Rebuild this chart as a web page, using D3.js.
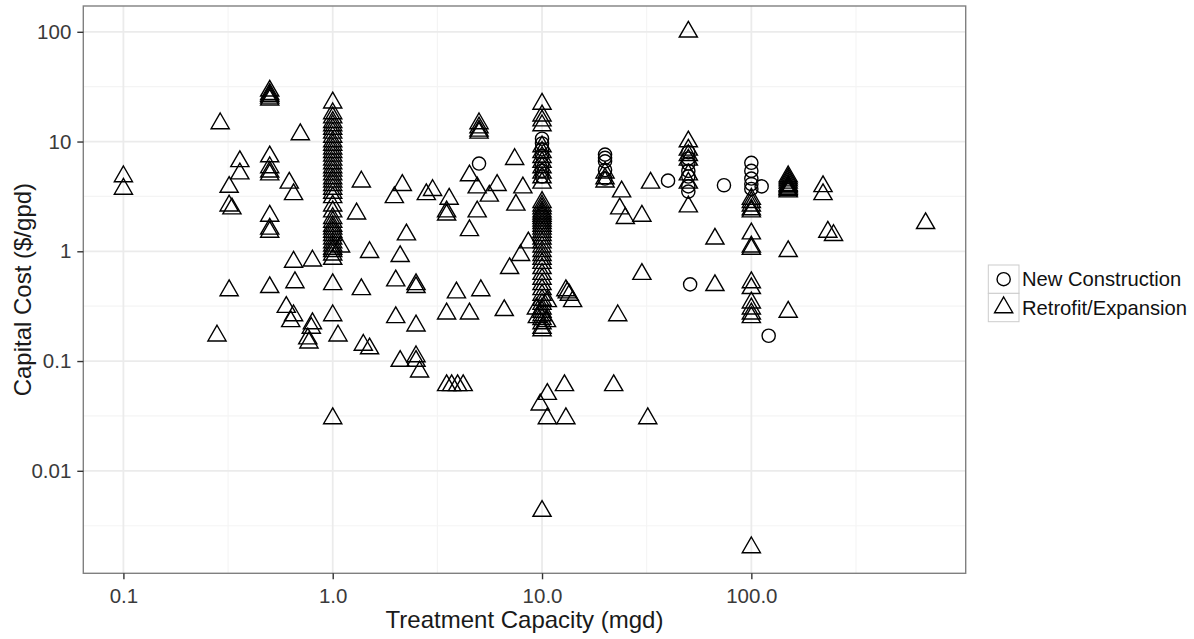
<!DOCTYPE html>
<html>
<head>
<meta charset="utf-8">
<script src="https://cdn.jsdelivr.net/npm/d3@7"></script>
<style>
  html, body { margin: 0; padding: 0; background: #fff; }
  svg { display: block; }
  text { font-family: "Liberation Sans", Arial, sans-serif; }
</style>
</head>
<body>
<svg id="chart" width="1194" height="639"></svg>
<script>
// ---------------- data ----------------
const seriesNames = ["New Construction", "Retrofit/Expansion"];

// New Construction: [capacity (mgd), capital cost ($/gpd)]
const newConstruction = [
  [5, 6.3],
  [10, 10.6], [10, 9.6], [10, 8.5], [10, 7.4], [10, 6.2], [10, 5.4], [10, 4.8],
  [20, 7.6], [20, 7.1], [20, 6.6], [20, 5.5], [20, 4.6],
  [40, 4.4],
  [50, 8.0], [50, 7.0], [50, 6.3], [50, 5.4], [50, 4.8], [50, 3.9], [50, 3.5],
  [51, 0.5],
  [74, 4.0],
  [100, 6.4], [100, 5.4], [100, 4.6], [100, 4.1], [100, 3.7],
  [112, 3.9],
  [121, 0.17]
];

// Retrofit/Expansion: [capacity (mgd), capital cost ($/gpd)]
const retrofitExpansion = [
  [0.1, 4.8], [0.1, 3.7],
  [0.28, 0.17], [0.29, 14.6],
  [0.32, 3.85], [0.32, 2.6], [0.32, 0.44], [0.33, 2.45],
  [0.36, 6.6], [0.36, 5.1],
  [0.5, 29], [0.5, 27], [0.5, 26], [0.5, 25], [0.5, 24],
  [0.5, 7.3], [0.5, 5.8], [0.5, 5.3], [0.5, 5.0], [0.5, 2.1], [0.5, 1.6], [0.5, 1.5], [0.5, 0.47],
  [0.6, 0.31], [0.62, 4.2], [0.63, 0.23],
  [0.65, 3.3], [0.65, 0.26], [0.65, 0.8], [0.66, 0.52],
  [0.7, 11.6], [0.76, 0.16], [0.77, 0.147], [0.79, 0.2], [0.8, 0.22], [0.8, 0.82],
  [1, 22.6], [1, 18], [1, 16.5], [1, 15], [1, 14], [1, 13], [1, 12], [1, 11], [1, 10],
  [1, 9.3], [1, 8.6], [1, 8], [1, 7.4], [1, 6.8], [1, 6.3], [1, 5.8], [1, 5.4], [1, 5.0],
  [1, 4.6], [1, 4.3], [1, 4.0], [1, 3.7], [1, 3.4], [1, 3.1], [1, 2.6], [1, 2.3],
  [1, 2.0], [1, 1.85], [1, 1.7], [1, 1.6], [1, 1.5], [1, 1.4], [1, 1.3], [1, 1.2],
  [1, 1.12], [1, 1.05], [1, 1.0], [1, 0.93], [1, 0.85], [1, 0.5], [1, 0.26], [1, 0.03],
  [1.06, 0.17], [1.09, 1.1], [1.3, 2.2], [1.37, 4.3], [1.37, 0.45], [1.4, 0.14],
  [1.5, 0.98], [1.5, 0.13],
  [1.97, 3.1], [2.0, 0.54], [2.0, 0.25], [2.1, 0.9], [2.1, 0.1], [2.15, 4.0], [2.25, 1.42],
  [2.5, 0.5], [2.5, 0.47], [2.5, 0.21], [2.5, 0.11], [2.5, 0.1], [2.6, 0.08],
  [2.8, 3.3], [3.0, 3.6],
  [3.5, 2.3], [3.5, 2.15], [3.5, 0.27], [3.5, 0.06], [3.6, 3.0], [3.7, 0.06],
  [3.9, 0.42], [3.95, 0.06], [4.2, 0.06],
  [4.5, 4.9], [4.5, 1.55], [4.5, 0.27], [4.9, 3.8], [4.9, 2.3],
  [5, 14.6], [5, 13.4], [5, 12.5], [5, 12], [5.1, 0.44],
  [5.6, 3.2], [6.1, 4.0], [6.6, 0.29], [7.0, 0.7], [7.4, 6.9], [7.5, 2.65],
  [7.9, 0.92], [8.1, 3.8], [8.6, 1.2],
  [10, 22], [10, 17.2], [10, 15.5], [10, 14], [10, 9], [10, 8], [10, 7.2], [10, 6.5],
  [10, 5.8], [10, 5.2], [10, 4.7], [10, 4.2],
  [10, 2.8], [10, 2.6], [10, 2.45], [10, 2.3], [10, 2.2], [10, 2.1], [10, 2.0], [10, 1.9],
  [10, 1.8], [10, 1.7], [10, 1.6], [10, 1.5], [10, 1.4], [10, 1.3], [10, 1.2], [10, 1.1],
  [10, 1.0], [10, 0.92], [10, 0.85], [10, 0.78], [10, 0.7], [10, 0.62], [10, 0.56],
  [10, 0.5], [10, 0.45], [10, 0.4], [10, 0.36], [10, 0.33], [10, 0.3], [10, 0.28],
  [10, 0.26], [10, 0.24], [10, 0.22], [10, 0.2], [10, 0.19], [10, 0.0043],
  [9.4, 0.3], [10.6, 0.35], [9.5, 0.25], [10.5, 0.23],
  [9.8, 0.04], [10.6, 0.05], [10.6, 0.03], [12.8, 0.06],
  [13, 0.03], [13, 0.44], [13.2, 0.42], [13.5, 0.4], [14, 0.35],
  [20, 5.2], [20, 4.6], [20, 4.3],
  [22, 0.06], [23, 0.26], [23.5, 2.45], [24, 3.5], [25, 2.0],
  [30, 2.1], [30, 0.62], [32, 0.03], [33, 4.2],
  [50, 100], [50, 10], [50, 8.4], [50, 7.5], [50, 6.8], [50, 5.0], [50, 4.2], [50, 2.55],
  [67, 1.3], [67, 0.49],
  [100, 3.0], [100, 2.8], [100, 2.6], [100, 2.4], [100, 2.3], [100, 1.45], [100, 1.1],
  [100, 1.05], [100, 0.52], [100, 0.46], [100, 0.34], [100, 0.3], [100, 0.27],
  [100, 0.25], [100, 0.002],
  [150, 4.8], [150, 4.6], [150, 4.4], [150, 4.2], [150, 4.0], [150, 3.9], [150, 3.8],
  [150, 3.7], [150, 3.6], [150, 3.5], [150, 1.0], [150, 0.28],
  [220, 3.9], [220, 3.3], [232, 1.5], [247, 1.4],
  [680, 1.8]
];

const xTickValues = [0.1, 1, 10, 100];
const xTickLabels = ["0.1", "1.0", "10.0", "100.0"];
const yTickValues = [0.01, 0.1, 1, 10, 100];
const yTickLabels = ["0.01", "0.1", "1", "10", "100"];
const xTitle = "Treatment Capacity (mgd)";
const yTitle = "Capital Cost ($/gpd)";

// ---------------- layout ----------------
const svg = d3.select("#chart");
const panel = { left: 83.3, right: 965.7, top: 6, bottom: 573.3 };

const allPts = newConstruction.concat(retrofitExpansion);
function logExpand(ext) {
  const a = Math.log10(ext[0]), b = Math.log10(ext[1]);
  const pad = (b - a) * 0.05;
  return [Math.pow(10, a - pad), Math.pow(10, b + pad)];
}
const x = d3.scaleLog()
  .domain(logExpand(d3.extent(allPts, d => d[0])))
  .range([panel.left, panel.right]);
const y = d3.scaleLog()
  .domain(logExpand(d3.extent(allPts, d => d[1])))
  .range([panel.bottom, panel.top]);

function minorOf(ticks, scale) {
  const out = [];
  const dom = scale.domain();
  const l = ticks.map(t => Math.log10(t));
  const step = l[1] - l[0];
  const ext = [l[0] - step].concat(l, [l[l.length - 1] + step]);
  for (let i = 0; i < ext.length - 1; i++) {
    const v = Math.pow(10, (ext[i] + ext[i + 1]) / 2);
    if (v > dom[0] && v < dom[1]) out.push(v);
  }
  return out;
}

// panel background
svg.append("rect")
  .attr("x", panel.left).attr("y", panel.top)
  .attr("width", panel.right - panel.left).attr("height", panel.bottom - panel.top)
  .attr("fill", "#fff");

const grid = svg.append("g");
// minor grid
grid.selectAll(".mx").data(minorOf(xTickValues, x)).enter().append("line")
  .attr("x1", d => x(d)).attr("x2", d => x(d))
  .attr("y1", panel.top).attr("y2", panel.bottom)
  .attr("stroke", "#f4f4f4").attr("stroke-width", 1.1);
grid.selectAll(".my").data(minorOf(yTickValues, y)).enter().append("line")
  .attr("y1", d => y(d)).attr("y2", d => y(d))
  .attr("x1", panel.left).attr("x2", panel.right)
  .attr("stroke", "#f4f4f4").attr("stroke-width", 1.1);
// major grid
grid.selectAll(".Mx").data(xTickValues).enter().append("line")
  .attr("x1", d => x(d)).attr("x2", d => x(d))
  .attr("y1", panel.top).attr("y2", panel.bottom)
  .attr("stroke", "#ebebeb").attr("stroke-width", 1.8);
grid.selectAll(".My").data(yTickValues).enter().append("line")
  .attr("y1", d => y(d)).attr("y2", d => y(d))
  .attr("x1", panel.left).attr("x2", panel.right)
  .attr("stroke", "#ebebeb").attr("stroke-width", 1.8);

// ---------------- points ----------------
const TRI_R = 10.5, CIRC_R = 6.6;
function triPath(r) {
  const h = r * Math.sqrt(3) / 2;
  return `M0,${-r}L${h},${r / 2}L${-h},${r / 2}Z`;
}
const pts = svg.append("g");
pts.selectAll("path.tri").data(retrofitExpansion).enter().append("path")
  .attr("class", "tri")
  .attr("d", triPath(TRI_R))
  .attr("transform", d => `translate(${x(d[0])},${y(d[1])})`)
  .attr("fill", "none").attr("stroke", "#000").attr("stroke-width", 1.4);
pts.selectAll("circle.nc").data(newConstruction).enter().append("circle")
  .attr("class", "nc")
  .attr("cx", d => x(d[0])).attr("cy", d => y(d[1])).attr("r", CIRC_R)
  .attr("fill", "none").attr("stroke", "#000").attr("stroke-width", 1.4);

// panel border
svg.append("rect")
  .attr("x", panel.left).attr("y", panel.top)
  .attr("width", panel.right - panel.left).attr("height", panel.bottom - panel.top)
  .attr("fill", "none").attr("stroke", "#808080").attr("stroke-width", 1.4);

// ---------------- axes ----------------
const xAxis = d3.axisBottom(x).tickValues(xTickValues)
  .tickFormat((d, i) => xTickLabels[i]).tickSize(6).tickPadding(9);
const gx = svg.append("g").attr("transform", `translate(0,${panel.bottom})`).call(xAxis);
gx.select(".domain").remove();
gx.selectAll(".tick line").attr("stroke", "#333").attr("stroke-width", 1.4);
gx.selectAll(".tick text").attr("font-size", 20.5).attr("fill", "#3a3a3a")
  .attr("font-family", "'Liberation Sans', Arial, sans-serif");

const yAxis = d3.axisLeft(y).tickValues(yTickValues)
  .tickFormat((d, i) => yTickLabels[i]).tickSize(6).tickPadding(6);
const gy = svg.append("g").attr("transform", `translate(${panel.left},0)`).call(yAxis);
gy.select(".domain").remove();
gy.selectAll(".tick line").attr("stroke", "#333").attr("stroke-width", 1.4);
gy.selectAll(".tick text").attr("font-size", 20.5).attr("fill", "#3a3a3a")
  .attr("font-family", "'Liberation Sans', Arial, sans-serif");

// titles
svg.append("text")
  .attr("x", (panel.left + panel.right) / 2).attr("y", 628)
  .attr("text-anchor", "middle").attr("font-size", 24).attr("fill", "#1a1a1a")
  .text(xTitle);
svg.append("text")
  .attr("transform", `translate(31,${(panel.top + panel.bottom) / 2}) rotate(-90)`)
  .attr("text-anchor", "middle").attr("font-size", 24).attr("fill", "#1a1a1a")
  .text(yTitle);

// ---------------- legend ----------------
const legend = svg.append("g");
const keyX = 988.3, keyW = 30.7, keyH = 28.35, keyTop = 265;
const legItems = legend.selectAll("g.item").data(seriesNames).enter().append("g")
  .attr("transform", (d, i) => `translate(${keyX},${keyTop + i * keyH})`);
legItems.append("rect")
  .attr("width", keyW).attr("height", keyH)
  .attr("fill", "#fff").attr("stroke", "#cccccc").attr("stroke-width", 1);
legItems.each(function (d, i) {
  const g = d3.select(this);
  if (i === 0) {
    g.append("circle").attr("cx", keyW / 2).attr("cy", keyH / 2).attr("r", CIRC_R)
      .attr("fill", "none").attr("stroke", "#000").attr("stroke-width", 1.4);
  } else {
    g.append("path").attr("d", triPath(TRI_R))
      .attr("transform", `translate(${keyW / 2},${keyH / 2})`)
      .attr("fill", "none").attr("stroke", "#000").attr("stroke-width", 1.4);
  }
});
legItems.append("text")
  .attr("x", 1022 - keyX).attr("y", keyH / 2).attr("dy", "0.35em")
  .attr("font-size", 20.2).attr("fill", "#111")
  .text(d => d);
</script>
</body>
</html>
